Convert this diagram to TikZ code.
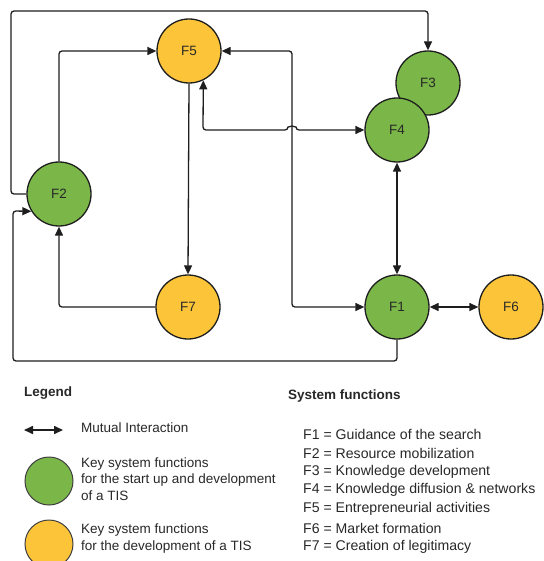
\documentclass[tikz,border=0pt]{standalone}
\usepackage{fontspec}
\setmainfont{Liberation Sans}
\usetikzlibrary{arrows.meta}
\definecolor{fgreen}{RGB}{122,182,72}
\definecolor{fyellow}{RGB}{252,196,56}
\definecolor{lineclr}{RGB}{30,30,30}
\definecolor{txt}{RGB}{40,40,40}
\begin{document}
\begin{tikzpicture}[x=1pt,y=-1pt,
  fn/.style={circle,draw=lineclr,line width=1.3pt,minimum size=64pt,inner sep=0pt,font=\fontsize{13.5}{16}\selectfont,text=txt},
  gfn/.style={fn,fill=fgreen},
  yfn/.style={fn,fill=fyellow},
  conn/.style={draw=lineclr,line width=1.3pt,rounded corners=3pt},
  arr/.style={conn,-{Triangle[length=9pt,width=8pt]}},
  dbl/.style={conn,{Triangle[length=9pt,width=8pt]}-{Triangle[length=9pt,width=8pt]}},
  lbl/.style={anchor=west,inner sep=0pt,text=txt,font=\fontsize{13.5}{16.5}\selectfont},
  lst/.style={anchor=west,inner sep=0pt,text=txt,font=\fontsize{14.1}{17}\selectfont},
  hdr/.style={anchor=west,inner sep=0pt,text=txt,font=\fontsize{13.5}{16}\selectfont\bfseries},
  lgc/.style={circle,draw=lineclr!85,line width=1pt,minimum size=48pt,inner sep=0pt}
]
\useasboundingbox (0,0) rectangle (543,561);
\fill[white] (0,0) rectangle (543,561);

% function nodes
\node[yfn] (F5) at (189,51) {F5};
\node[gfn] (F3) at (428,83) {F3};
\node[gfn] (F4) at (397,130) {F4};
\node[gfn] (F2) at (59,194) {F2};
\node[yfn] (F7) at (188,307) {F7};
\node[gfn] (F1) at (397,307) {F1};
\node[yfn] (F6) at (511,307) {F6};

% connectors
\draw[arr] (F2.west) -- (11,194) -- (11,11) -- (F3.north |- 0,11) -- (F3.north);
\draw[arr] (F2.north) |- (F5.west);
\draw[arr] (F5.south) -- (F7.north);
\draw[arr] (F7.west) -| (F2.south);
\draw[dbl] (F5.east) -- (292,51) -- (292,307) -- (F1.west);
\draw[dbl] (F5.-64) -- (203,130) -- (288,130) arc[start angle=180,end angle=360,radius=4] -- (F4.west);
\draw[dbl] (F4.south) -- (F1.north);
\draw[dbl] (F1.east) -- (F6.west);
\draw[arr] (F1.south) -- (397,361) -- (13,361) -- (13,211) -- (F2.212);

% legend
\node[hdr] (leg) at (24,393) {Legend};
\coordinate (la) at (24,430);
\coordinate (lb) at (63,430);
\draw[dbl,line width=1.6pt] (la) -- (lb);
\node[lbl] (mi) at (81,428) {Mutual Interaction};
\node[lgc,fill=fgreen] (lg) at (49,481) {};
\node[lbl,align=left] (lgt) at (81,479) {Key system functions\\for the start up and development\\of a TIS};
\node[lgc,fill=fyellow] (ly) at (49,544) {};
\node[lbl,align=left] (lyt) at (81,538.5) {Key system functions\\for the development of a TIS};

\node[hdr] (sf) at (288,396) {System functions};
\node[lst] (s1) at (303,434) {F1 = Guidance of the search};
\node[lst] (s2) at (303,453) {F2 = Resource mobilization};
\node[lst] (s3) at (303,471.5) {F3 = Knowledge development};
\node[lst] (s4) at (303,490) {F4 = Knowledge diffusion \& networks};
\node[lst] (s5) at (303,509) {F5 = Entrepreneurial activities};
\node[lst] (s6) at (303,528) {F6 = Market formation};
\node[lst] (s7) at (303,547) {F7 = Creation of legitimacy};
\end{tikzpicture}
\end{document}
